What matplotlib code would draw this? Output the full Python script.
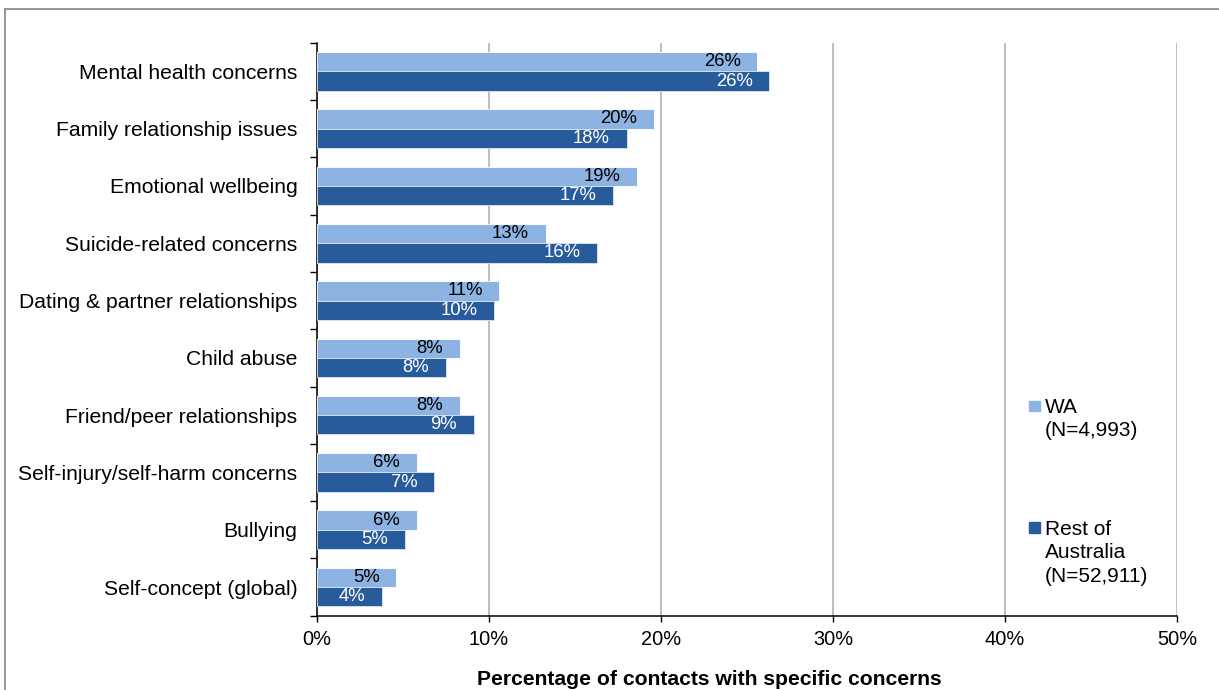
import matplotlib
matplotlib.use("Agg")
import matplotlib.pyplot as plt
from matplotlib.patches import Rectangle
import numpy as np

# data (percent of contacts)
concerns = [
    "Mental health concerns",
    "Family relationship issues",
    "Emotional wellbeing",
    "Suicide-related concerns",
    "Dating & partner relationships",
    "Child abuse",
    "Friend/peer relationships",
    "Self-injury/self-harm concerns",
    "Bullying",
    "Self-concept (global)",
]
wa_values = [25.6, 19.6, 18.6, 13.3, 10.6, 8.3, 8.3, 5.8, 5.8, 4.6]
roa_values = [26.3, 18.0, 17.2, 16.3, 10.3, 7.5, 9.1, 6.8, 5.1, 3.8]
x_ticks = [0, 10, 20, 30, 40, 50]
legend_wa = ["WA", "(N=4,993)"]
legend_roa = ["Rest of", "Australia", "(N=52,911)"]

WA_COLOR = "#8DB3E2"
ROA_COLOR = "#285B9B"
GRID_COLOR = "#BFBFBF"

plt.rcParams["font.family"] = ["Liberation Sans", "DejaVu Sans"]

W, H = 1219, 690
fig = plt.figure(figsize=(W / 100, H / 100), dpi=100)
ax = fig.add_axes([317 / W, 74.3 / H, 860 / W, 573 / H])

y = np.arange(len(concerns))
bar_h = 0.337
ax.barh(y - bar_h / 2, wa_values, height=bar_h, color=WA_COLOR,
        edgecolor="white", linewidth=0.6, zorder=3)
ax.barh(y + bar_h / 2, roa_values, height=bar_h, color=ROA_COLOR,
        edgecolor="#DCE6F2", linewidth=0.6, zorder=3)

for i, (a, b) in enumerate(zip(wa_values, roa_values)):
    ax.annotate(f"{a:.0f}%", (a, i - bar_h / 2), xytext=(-12, 0),
                textcoords="offset points", ha="right", va="center",
                fontsize=13.3, color="black", zorder=4)
    ax.annotate(f"{b:.0f}%", (b, i + bar_h / 2), xytext=(-12, 0),
                textcoords="offset points", ha="right", va="center",
                fontsize=13.3, color="white", zorder=4)

ax.set_xlim(0, 50)
ax.set_ylim(len(concerns) - 0.5, -0.5)

# x axis
ax.set_xticks(x_ticks)
ax.set_xticklabels([f"{t}%" for t in x_ticks], fontsize=14.4)
ax.tick_params(axis="x", direction="out", length=4.3, width=1, pad=6)
ax.grid(axis="x", color=GRID_COLOR, linewidth=1.5, zorder=0)
ax.set_axisbelow(True)

# y axis: ticks on category boundaries, labels in the middle
ax.set_yticks(np.arange(-0.5, len(concerns), 1.0))
ax.set_yticklabels([])
ax.set_yticks(y, minor=True)
ax.set_yticklabels(concerns, minor=True, fontsize=15.2)
ax.tick_params(axis="y", which="major", direction="out", length=5, width=1)
ax.tick_params(axis="y", which="minor", length=0, pad=14)

for side in ["top", "right"]:
    ax.spines[side].set_visible(False)
for side in ["left", "bottom"]:
    ax.spines[side].set_color("black")
    ax.spines[side].set_linewidth(1.1)

ax.set_xlabel("Percentage of contacts with specific concerns",
              fontsize=15.2, fontweight="bold")
ax.xaxis.set_label_coords(392 / 860, -0.121)
ax.xaxis.label.set_va("baseline")

# legend drawn by hand to keep square aligned to first text line
def legend_entry(color, lines, square_top, first_base):
    fig.patches.append(Rectangle((1029 / W, 1 - (square_top + 10.5) / H),
                                 11 / W, 10.5 / H, color=color,
                                 transform=fig.transFigure))
    for k, line in enumerate(lines):
        fig.text(1045 / W, 1 - (first_base + k * 23.3) / H, line,
                 fontsize=15, va="baseline", ha="left")

legend_entry(WA_COLOR, legend_wa, 400.5, 413)
legend_entry(ROA_COLOR, legend_roa, 522, 535)

# outer frame (cut off on the right and bottom)
fig.patches.append(Rectangle((5 / W, -0.1), 2, 1.1 - 9 / H, fill=False,
                             edgecolor="#8C8C8C", linewidth=1.3,
                             transform=fig.transFigure))

fig.savefig("out.png", dpi=100)
